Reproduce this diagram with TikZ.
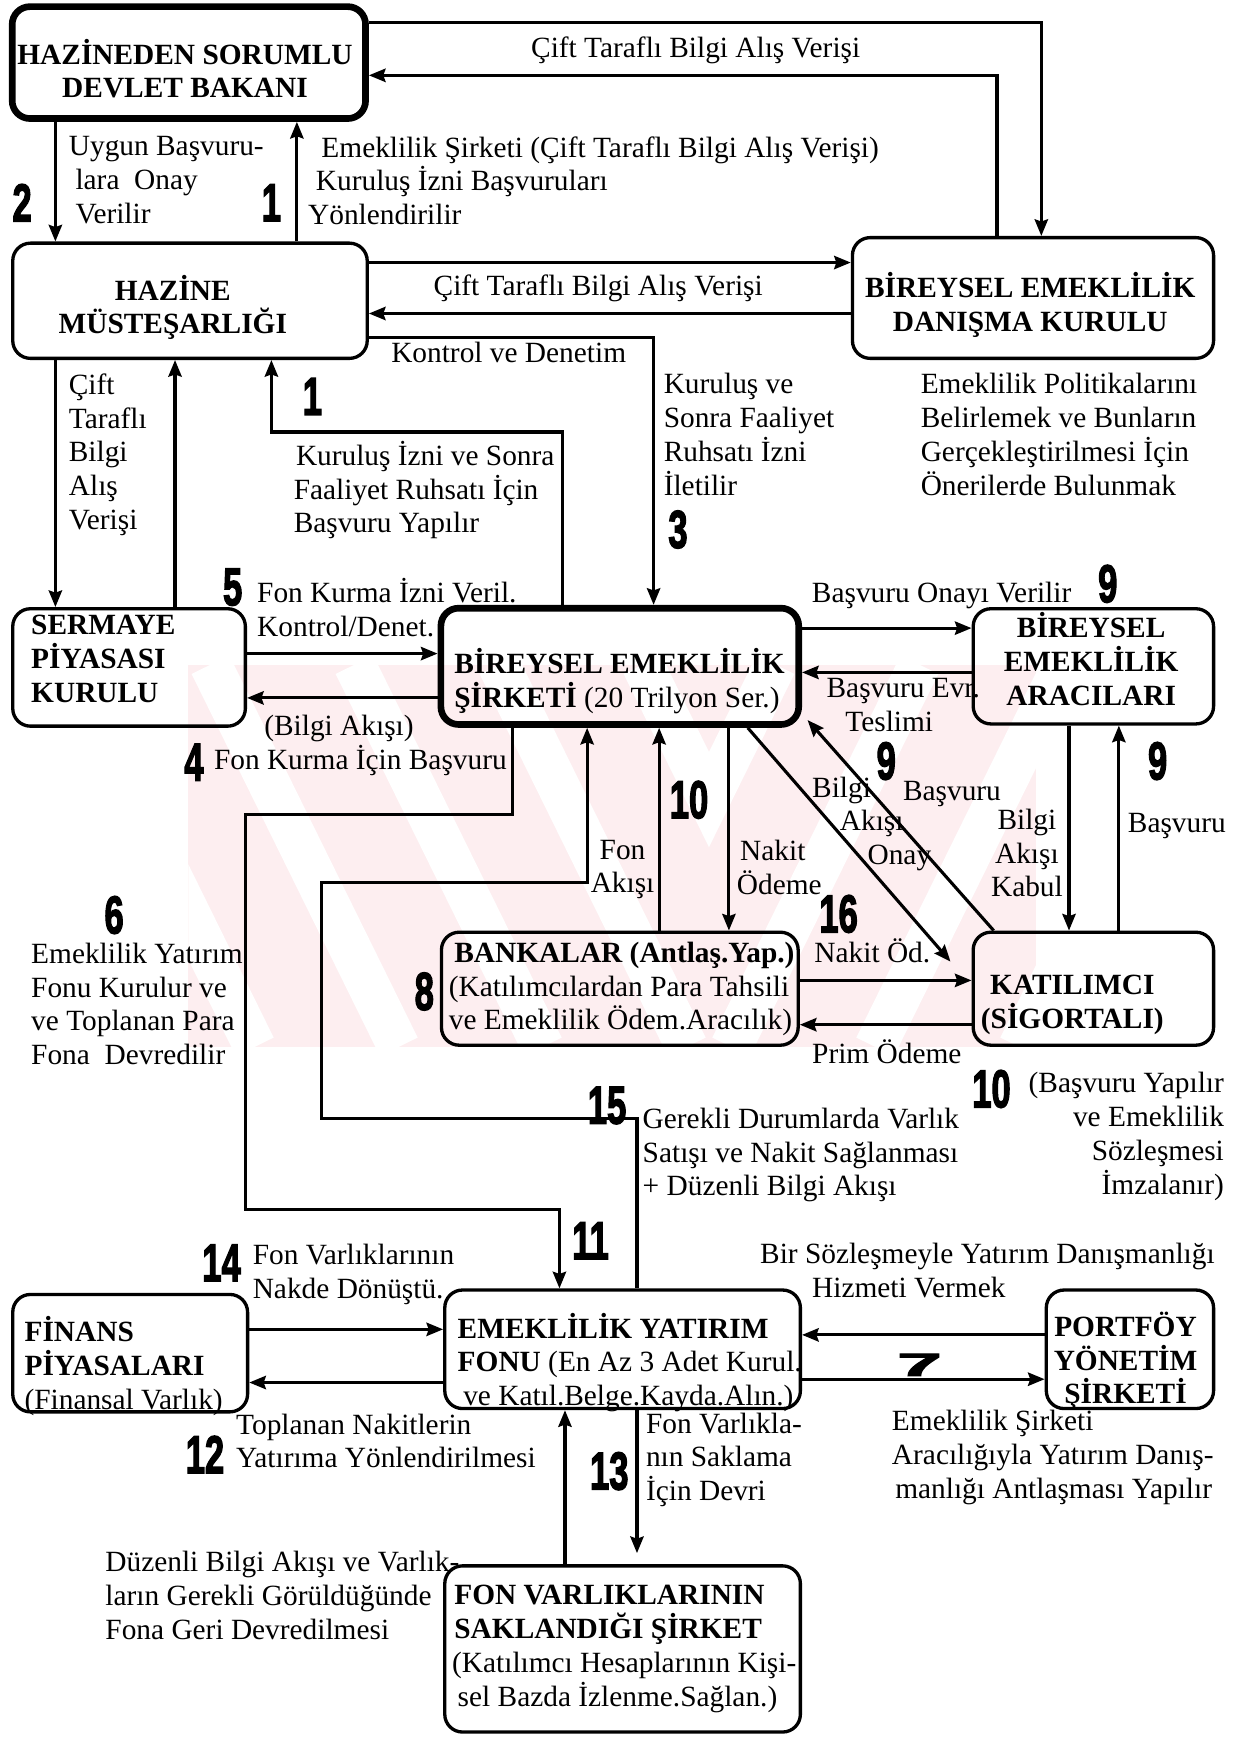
\documentclass[tikz,border=0pt]{standalone}
\usepackage{fontspec}
\setmainfont{Liberation Serif}
\newfontfamily\numfont{Liberation Sans}[BoldFeatures={FakeBold=3}]
\usepackage{graphicx}
\usetikzlibrary{arrows.meta}
\definecolor{wm}{RGB}{253,238,240}
\newcommand{\nm}[1]{\scalebox{0.65}[1]{\numfont\bfseries\fontsize{48}{48}\selectfont #1}}
\tikzset{
  arr/.style={line width=2.8pt, -{Stealth[length=15pt,width=12pt,inset=2pt]}},
  box/.style={draw, line width=3pt, rounded corners=16pt, inner sep=0pt},
  thickbox/.style={box, line width=6pt},
  lbl/.style={inner sep=0pt, font=\fontsize{26.5}{30.5}\selectfont, align=left, anchor=north west, execute at begin node=\strut},
  btx/.style={inner sep=0pt, font=\bfseries\fontsize{26.5}{30.5}\selectfont, align=center, anchor=north, execute at begin node=\strut},
  num/.style={inner sep=0pt}
}
\begin{document}
\begin{tikzpicture}[x=1pt,y=-1pt]
\useasboundingbox (0,0) rectangle (1116,1568);
% watermark
\fill[wm] (170,600) rectangle (935,945);
\begin{scope}
\clip (170,600) rectangle (640,945);
\foreach \k in {60,190,320,450,580} \draw[white, line width=38pt] (\k,600) -- ++(170,345);
\end{scope}
\begin{scope}
\clip (640,600) rectangle (935,945);
\foreach \k in {700,830,960,1090} \draw[white, line width=38pt] (\k,600) -- ++(-170,345);
\end{scope}
% boxes
\node[thickbox, minimum width=319pt, minimum height=101pt] (b1) at (170.5,56.5) {};
\node[box, minimum width=320pt, minimum height=104pt] (b2) at (171.5,271.5) {};
\node[box, minimum width=326pt, minimum height=109pt] (b3) at (932.5,269) {};
\node[box, minimum width=210pt, minimum height=106pt] (b4) at (116.5,602.5) {};
\node[thickbox, minimum width=323pt, minimum height=105pt] (b5) at (559.5,601.5) {};
\node[box, minimum width=217pt, minimum height=104pt] (b6) at (987,601.5) {};
\node[box, minimum width=322pt, minimum height=102pt] (b7) at (559.5,892.5) {};
\node[box, minimum width=217pt, minimum height=102pt] (b8) at (987,892.5) {};
\node[box, minimum width=212pt, minimum height=106pt] (b9) at (117.5,1221.5) {};
\node[box, minimum width=321pt, minimum height=107pt] (b10) at (562,1218) {};
\node[box, minimum width=151pt, minimum height=107pt] (b11) at (1020,1218) {};
\node[box, minimum width=321pt, minimum height=150pt] (b12) at (562,1488.5) {};
% box texts
\node[btx] (t1) at (167,35) {HAZİNEDEN SORUMLU\\DEVLET BAKANI};
\node[btx] (t2) at (156,248) {HAZİNE\\MÜSTEŞARLIĞI};
\node[btx] (t3) at (930,246) {BİREYSEL EMEKLİLİK\\DANIŞMA KURULU};
\node[btx, align=left, anchor=north west] (t4) at (28,555) {SERMAYE\\PİYASASI\\KURULU};
\node[btx, align=left, anchor=north west] (t5) at (410,585) {BİREYSEL EMEKLİLİK\\ŞİRKETİ {\mdseries(20 Trilyon Ser.)}};
\node[btx] (t6) at (985,553) {BİREYSEL\\EMEKLİLİK\\ARACILARI};
\node[btx, align=left, anchor=north west] (t7) at (405,850) {\hspace*{5pt}BANKALAR (Antlaş.Yap.)\\{\mdseries(Katılımcılardan Para Tahsili}\\{\mdseries ve Emeklilik Ödem.Aracılık)}};
\node[btx] (t8) at (968,880) {KATILIMCI\\(SİGORTALI)};
\node[btx, align=left, anchor=north west] (t9) at (22,1188) {FİNANS\\PİYASALARI\\{\mdseries(Finansal Varlık)}};
\node[btx, align=left, anchor=north west] (t10) at (413,1185) {EMEKLİLİK YATIRIM\\FONU {\mdseries(En Az 3 Adet Kurul.}\\{\mdseries\hspace*{5pt}ve Katıl.Belge.Kayda.Alın.)}};
\node[btx] (t11) at (1016,1184) {PORTFÖY\\YÖNETİM\\ŞİRKETİ};
\node[btx, align=left, anchor=north west] (t12) at (408,1431) {\hspace*{2pt}FON VARLIKLARININ\\\hspace*{2pt}SAKLANDIĞI ŞİRKET\\{\mdseries(Katılımcı Hesaplarının Kişi-}\\{\mdseries\hspace*{5pt}sel Bazda İzlenme.Sağlan.)}};
% connectors
\draw[arr] (b1.east |- 0,20) -| (b3.north -| 940,0);
\draw[arr] (b3.north -| 900,0) |- (b1.east |- 0,68);
\draw[arr] (b1.south -| 50,0) -- (b2.north -| 50,0);
\draw[arr] (b2.north -| 268,0) -- (b1.south -| 268,0);
\draw[arr] (b2.east |- 0,237) -- (b3.west |- 0,237);
\draw[arr] (b3.west |- 0,283) -- (b2.east |- 0,283);
\draw[arr] (b2.east |- 0,305) -| (b5.north -| 590,0);
\draw[arr] (b5.north -| 508,0) |- (245,390) -- (b2.south -| 245,0);
\draw[arr] (b2.south -| 50,0) -- (b4.north -| 50,0);
\draw[arr] (b4.north -| 158,0) -- (b2.south -| 158,0);
\draw[arr] (b4.east |- 0,590) -- (b5.west |- 0,590);
\draw[arr] (b5.west |- 0,630) -- (b4.east |- 0,630);
\draw[arr] (b5.south -| 463,0) |- (222,735) |- (505,1092) -- (b10.north -| 505,0);
\draw[arr] (b10.north -| 575,0) |- (290,1010) |- (530,797) -- (b5.south -| 530,0);
\draw[arr] (b7.north -| 595,0) -- (b5.south -| 595,0);
\draw[arr] (b5.south -| 658,0) -- (b7.north -| 658,0);
\coordinate (k1) at (858,868);
\coordinate (k2) at (729,650);
\draw[arr] (b5.south -| 675,0) -- (k1);
\draw[arr] (b8.north -| 897,0) -- (k2);
\draw[arr] (b5.east |- 0,567) -- (b6.west |- 0,567);
\draw[arr] (b6.west |- 0,607) -- (b5.east |- 0,607);
\draw[arr] (b6.south -| 965,0) -- (b8.north -| 965,0);
\draw[arr] (b8.north -| 1010,0) -- (b6.south -| 1010,0);
\draw[arr] (b7.east |- 0,885) -- (b8.west |- 0,885);
\draw[arr] (b8.west |- 0,925) -- (b7.east |- 0,925);
\draw[arr] (b9.east |- 0,1200) -- (b10.west |- 0,1200);
\draw[arr] (b10.west |- 0,1248) -- (b9.east |- 0,1248);
\draw[arr] (b11.west |- 0,1205) -- (b10.east |- 0,1205);
\draw[arr] (b10.east |- 0,1245) -- (b11.west |- 0,1245);
\draw[arr] (b12.north -| 510,0) -- (b10.south -| 510,0);
\draw[arr, shorten >=10pt] (b10.south -| 575,0) -- (b12.north -| 575,0);
% labels
\node[lbl, anchor=north] (l1) at (628,30) {Çift Taraflı Bilgi Alış Verişi};
\node[lbl] (l2) at (62,123) {Uygun Başvuru-\\\hspace*{6pt}lara\ \ Onay\\\hspace*{6pt}Verilir};
\node[lbl] (l3) at (278,123) {\hspace*{12pt}Emeklilik Şirketi (Çift Taraflı Bilgi Alış Verişi)\\\hspace*{7pt}Kuruluş İzni Başvuruları\\Yönlendirilir};
\node[lbl, anchor=north] (l4) at (540,245) {Çift Taraflı Bilgi Alış Verişi};
\node[lbl] (l5) at (353,306) {Kontrol ve Denetim};
\node[lbl] (l6) at (599,337) {Kuruluş ve\\Sonra Faaliyet\\Ruhsatı İzni\\İletilir};
\node[lbl] (l7) at (831,337) {Emeklilik Politikalarını\\Belirlemek ve Bunların\\Gerçekleştirilmesi İçin\\Önerilerde Bulunmak};
\node[lbl] (l8) at (265,398) {\hspace*{2pt}Kuruluş İzni ve Sonra\\Faaliyet Ruhsatı İçin\\Başvuru Yapılır};
\node[lbl] (l9) at (62,337) {Çift\\Taraflı\\Bilgi\\Alış\\Verişi};
\node[lbl] (l10) at (232,522) {Fon Kurma İzni Veril.\\Kontrol/Denet.};
\node[lbl, anchor=north] (l11) at (306,642) {(Bilgi Akışı)};
\node[lbl] (l12) at (193,673) {Fon Kurma İçin Başvuru};
\node[lbl] (l13) at (28,851) {Emeklilik Yatırım\\Fonu Kurulur ve\\ve Toplanan Para\\Fona\ \ Devredilir};
\node[lbl, align=center, anchor=north] (l14) at (562,758) {Fon\\Akışı};
\node[lbl] (l15) at (665,758) {\hspace*{3pt}Nakit\\Ödeme};
\node[lbl] (l16) at (733,701) {Bilgi\\\hspace*{25pt}Akışı\\\hspace*{50pt}Onay};
\node[lbl] (l17) at (815,701) {Başvuru};
\node[lbl, anchor=north] (l18) at (850,522) {Başvuru Onayı Verilir};
\node[lbl] (l19) at (746,612) {Başvuru Evr.\\\hspace*{17pt}Teslimi};
\node[lbl, align=center, anchor=north] (l20) at (927,730) {Bilgi\\Akışı\\Kabul};
\node[lbl] (l21) at (1018,730) {Başvuru};
\node[lbl] (l22) at (735,847) {Nakit Öd.};
\node[lbl] (l23) at (733,938) {Prim Ödeme};
\node[lbl, align=right, anchor=north east] (l24) at (1105,968) {(Başvuru Yapılır\\ve Emeklilik\\Sözleşmesi\\İmzalanır)};
\node[lbl] (l25) at (580,1000) {Gerekli Durumlarda Varlık\\Satışı ve Nakit Sağlanması\\+ Düzenli Bilgi Akışı};
\node[lbl] (l26) at (228,1123) {Fon Varlıklarının\\Nakde Dönüştü.};
\node[lbl] (l27) at (213,1276) {Toplanan Nakitlerin\\Yatırıma Yönlendirilmesi};
\node[lbl] (l28) at (686,1122) {Bir Sözleşmeyle Yatırım Danışmanlığı\\\hspace*{47pt}Hizmeti Vermek};
\node[lbl] (l29) at (805,1273) {Emeklilik Şirketi\\Aracılığıyla Yatırım Danış-\\\hspace*{3pt}manlığı Antlaşması Yapılır};
\node[lbl] (l30) at (583,1275) {Fon Varlıkla-\\nın Saklama\\İçin Devri};
\node[lbl] (l31) at (95,1400) {Düzenli Bilgi Akışı ve Varlık-\\ların Gerekli Görüldüğünde\\Fona Geri Devredilmesi};
% numbers
\node[num] (n2) at (20,183) {\nm{2}};
\node[num] (n1a) at (245,183) {\nm{1}};
\node[num] (n1b) at (282,358) {\nm{1}};
\node[num] (n3) at (612,478) {\nm{3}};
\node[num] (n5) at (210,530) {\nm{5}};
\node[num] (n4) at (175,688) {\nm{4}};
\node[num] (n6) at (103,826) {\nm{6}};
\node[num] (n9a) at (1000,527) {\nm{9}};
\node[num] (n9b) at (800,687) {\nm{9}};
\node[num] (n9c) at (1045,687) {\nm{9}};
\node[num] (n10a) at (622,722) {\nm{10}};
\node[num] (n16) at (757,825) {\nm{16}};
\node[num] (n8) at (383,895) {\nm{8}};
\node[num] (n10b) at (895,983) {\nm{10}};
\node[num] (n15) at (548,998) {\nm{15}};
\node[num] (n11) at (533,1120) {\nm{11}};
\node[num] (n14) at (200,1140) {\nm{14}};
\node[num] (n12) at (185,1313) {\nm{12}};
\node[num] (n13) at (550,1328) {\nm{13}};
\node[num] (n7) at (830,1232) {\scalebox{1.5}[0.6]{\numfont\bfseries\fontsize{48}{48}\selectfont 7}};
\end{tikzpicture}
\end{document}
